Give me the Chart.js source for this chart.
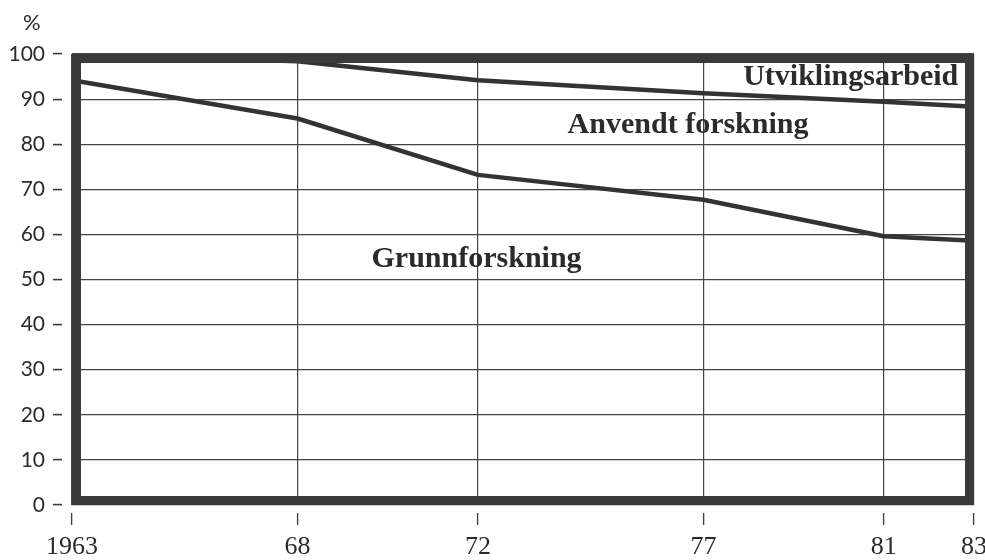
<!DOCTYPE html>
<html>
<head>
<meta charset="utf-8">
<script src="https://cdn.jsdelivr.net/npm/chart.js@4/dist/chart.umd.min.js"></script>
<style>
  html, body { margin: 0; padding: 0; background: #fff; }
  #wrap { width: 985px; height: 560px; }
</style>
</head>
<body>
<div id="wrap"><canvas id="myChart"></canvas></div>
<script>
// values (cumulative shares, %)
const years = [1963, 1968, 1972, 1977, 1981, 1983];
const grunnforskning = [94.2, 85.7, 73.2, 67.7, 59.6, 58.6];       // top of Grunnforskning
const anvendtForskning = [100, 98.4, 94.2, 91.3, 89.4, 88.3];      // top of Anvendt forskning
const xTickLabels = ['1963', '68', '72', '77', '81', '83'];
const areaLabels = ['Utviklingsarbeid', 'Anvendt forskning', 'Grunnforskning'];
const unitLabel = '%';

// where the area names sit (in data units)
const labelPlacement = [
  { x: 1982.65, y: 93.1, align: 'right' },
  { x: 1976.66, y: 82.5, align: 'center' },
  { x: 1971.97, y: 52.8, align: 'center' }
];

const INK = '#333333';

function toPoints(vals) {
  return vals.map((v, i) => ({ x: years[i], y: v }));
}

// thick frame round the plot area, drawn over the line ends
const framePlugin = {
  id: 'frame',
  afterDatasetsDraw(chart) {
    const { ctx, chartArea: a } = chart;
    ctx.save();
    ctx.lineWidth = 9;
    ctx.strokeStyle = '#3a3a3a';
    ctx.strokeRect(a.left + 4.5, a.top + 4.5, a.width - 9, a.height - 9);
    ctx.restore();
  }
};

// area names inside the chart + the % sign above the y labels
const textPlugin = {
  id: 'texts',
  afterDatasetsDraw(chart) {
    const { ctx, scales, chartArea } = chart;
    ctx.save();
    ctx.fillStyle = '#2b2b2b';
    ctx.font = 'bold 30px "Liberation Serif", serif';
    ctx.textBaseline = 'alphabetic';
    areaLabels.forEach((txt, i) => {
      const p = labelPlacement[i];
      ctx.textAlign = p.align;
      ctx.fillText(txt, scales.x.getPixelForValue(p.x), scales.y.getPixelForValue(p.y));
    });
    ctx.font = '22px Lato, sans-serif';
    ctx.textAlign = 'left';
    ctx.textBaseline = 'middle';
    ctx.fillText(unitLabel, scales.y.left + 23, chartArea.top - 31);
    ctx.restore();
  }
};

const lineStyle = {
  borderColor: INK,
  borderWidth: 4.5,
  pointRadius: 0,
  tension: 0,
  fill: false,
  borderJoinStyle: 'round'
};

const config = {
  type: 'line',
  data: {
    datasets: [
      Object.assign({ label: 'Grunnforskning', data: toPoints(grunnforskning) }, lineStyle),
      Object.assign({ label: 'Anvendt forskning', data: toPoints(anvendtForskning) }, lineStyle)
    ]
  },
  options: {
    responsive: true,
    maintainAspectRatio: false,
    animation: false,
    layout: { padding: { left: 0, right: 0, top: 54, bottom: 0 } },
    plugins: {
      legend: { display: false },
      tooltip: { enabled: false },
      title: { display: false }
    },
    scales: {
      x: {
        type: 'linear',
        min: 1963,
        max: 1983,
        afterBuildTicks(scale) {
          scale.ticks = years.map(v => ({ value: v }));
        },
        afterFit(scale) {
          scale.height = 55;
          scale.paddingRight = 11;
          scale.paddingLeft = 0;
        },
        border: { display: false },
        grid: {
          color: '#444',
          lineWidth: 1.2,
          drawTicks: true,
          tickLength: 20,
          tickColor: '#444',
          tickWidth: 1.4,
          tickBorderDash: [0, 8, 12, 100]   // short mark below the frame
        },
        ticks: {
          autoSkip: false,
          maxRotation: 0,
          padding: 7,
          color: '#2b2b2b',
          font: { family: '"Liberation Serif", serif', size: 26 },
          callback: (v) => xTickLabels[years.indexOf(v)]
        }
      },
      y: {
        min: 0,
        max: 100,
        afterFit(scale) {
          scale.width = 72;
          scale.paddingTop = 0;
          scale.paddingBottom = 0;
        },
        border: { display: false },
        grid: {
          color: '#444',
          lineWidth: 1.2,
          drawTicks: true,
          tickLength: 19,
          tickColor: '#3a3a3a',
          tickWidth: 1.6,
          tickBorderDash: [9, 100]   // dash next to the label, gap before the frame
        },
        ticks: {
          stepSize: 10,
          padding: 8,
          color: '#2b2b2b',
          font: { family: 'Lato, sans-serif', size: 21 }
        }
      }
    }
  },
  plugins: [framePlugin, textPlugin]
};

const myChart = new Chart(document.getElementById('myChart'), config);
</script>
</body>
</html>
